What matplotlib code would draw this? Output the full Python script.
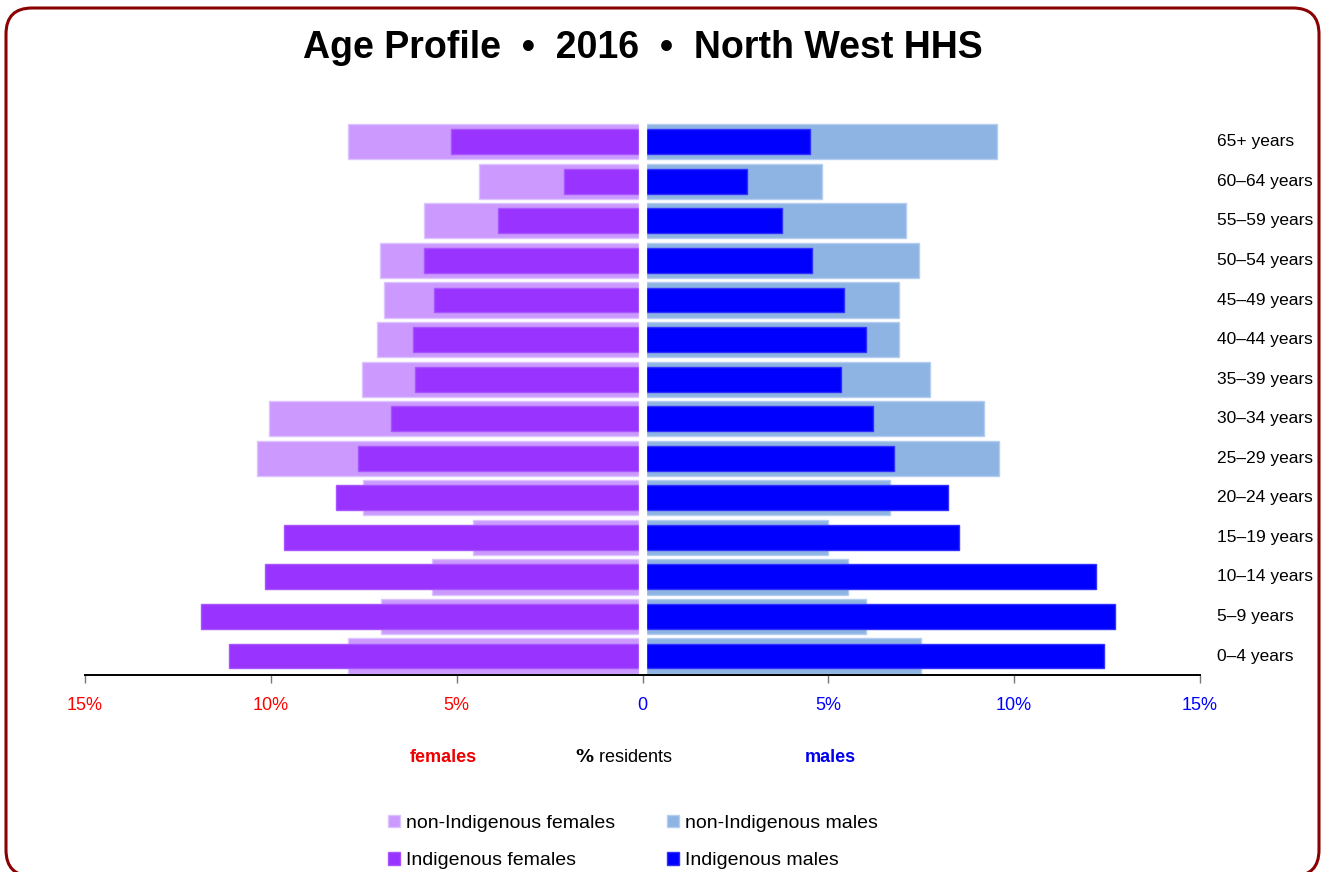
import numpy as np
import matplotlib
matplotlib.use("Agg")
import matplotlib.pyplot as plt
from matplotlib.patches import FancyBboxPatch

# Age groups, bottom to top
age_groups = ["0–4 years", "5–9 years", "10–14 years", "15–19 years", "20–24 years",
              "25–29 years", "30–34 years", "35–39 years", "40–44 years", "45–49 years",
              "50–54 years", "55–59 years", "60–64 years", "65+ years"]

# % of residents
non_indig_females = [7.93, 7.04, 5.67, 4.57, 7.53, 10.38, 10.05, 7.55, 7.15, 6.96, 7.07, 5.89, 4.41, 7.93]
indig_females = [11.13, 11.88, 10.16, 9.65, 8.25, 7.66, 6.77, 6.13, 6.18, 5.62, 5.89, 3.90, 2.10, 5.16]
non_indig_males = [7.50, 6.00, 5.54, 5.00, 6.67, 9.60, 9.19, 7.74, 6.91, 6.91, 7.45, 7.10, 4.84, 9.54]
indig_males = [12.42, 12.72, 12.20, 8.52, 8.23, 6.77, 6.21, 5.35, 6.02, 5.43, 4.57, 3.74, 2.80, 4.52]

tick_values = [-15, -10, -5, 0, 5, 10, 15]
tick_labels = ["15%", "10%", "5%", "0", "5%", "10%", "15%"]
tick_colors = ["red", "red", "red", "blue", "blue", "blue", "blue"]

plt.rcParams["font.family"] = ["Liberation Sans", "DejaVu Sans"]

W, H = 1326, 872
fig = plt.figure(figsize=(W / 100, H / 100), dpi=100)
ax = fig.add_axes([85 / W, 1 - 675 / H, (1200 - 85) / W, (675 - 122) / H])

y = np.arange(len(age_groups))
c_nf, c_if, c_nm, c_im = "#cc99ff", "#9933ff", "#8eb4e3", "#0000ff"

h_nf = ax.barh(y, -np.array(non_indig_females), height=0.89, color=c_nf,
               edgecolor="#dcc4ff", linewidth=1, label="non-Indigenous females")
h_nm = ax.barh(y, non_indig_males, height=0.89, color=c_nm,
               edgecolor="#b4cdf0", linewidth=1, label="non-Indigenous males")
h_if = ax.barh(y, -np.array(indig_females), height=0.63, color=c_if,
               edgecolor="#a855ff", linewidth=1, label="Indigenous females")
h_im = ax.barh(y, indig_males, height=0.63, color=c_im,
               edgecolor="#3030ff", linewidth=1, label="Indigenous males")

# white gap between the two sides
ax.axvline(0, ymin=0.005, ymax=1, color="white", lw=6, zorder=2)

ax.set_xlim(-15, 15)
ax.set_ylim(-0.48, 13.5)

for s in ["top", "left", "right"]:
    ax.spines[s].set_visible(False)
ax.spines["bottom"].set_color("black")
ax.spines["bottom"].set_linewidth(1.4)
ax.set_yticks([])
ax.set_xticks(tick_values)
ax.set_xticklabels(tick_labels, fontsize=13)
for lab, col in zip(ax.get_xticklabels(), tick_colors):
    lab.set_color(col)
ax.tick_params(axis="x", length=6, width=1, color="#777777", pad=10)

# age labels on the right
for yi, lab in zip(y, age_groups):
    ax.text(15.45, yi, lab, fontsize=12.5, va="center", ha="left", clip_on=False)

fig.text(643 / W, 1 - 48 / H, "Age Profile  •  2016  •  North West HHS",
         ha="center", va="center", fontsize=27, fontweight="bold")

fig.text(443 / W, 1 - 758 / H, "females", color="#ee0000", fontsize=13,
         fontweight="bold", ha="center", va="center")
fig.text(624 / W, 1 - 758 / H, r"$\bf{\%}$ residents", color="black", fontsize=13,
         ha="center", va="center")
fig.text(830 / W, 1 - 758 / H, "males", color="#0000ee", fontsize=13,
         fontweight="bold", ha="center", va="center")

fig.legend(handles=[h_nf, h_if, h_nm, h_im], ncol=2, loc="center",
           bbox_to_anchor=(633 / W, 1 - 842 / H), frameon=False, fontsize=14,
           handlelength=0.6, handleheight=0.6, handletextpad=0.3,
           columnspacing=2.7, labelspacing=1.05)

# rounded frame round the whole picture
frame = FancyBboxPatch((6, -4), 1313, 868, boxstyle="round,pad=0,rounding_size=26",
                       transform=None, fill=False, edgecolor="#8b0000", linewidth=2.2)
fig.patches.append(frame)

fig.savefig("out.png", dpi=100)
